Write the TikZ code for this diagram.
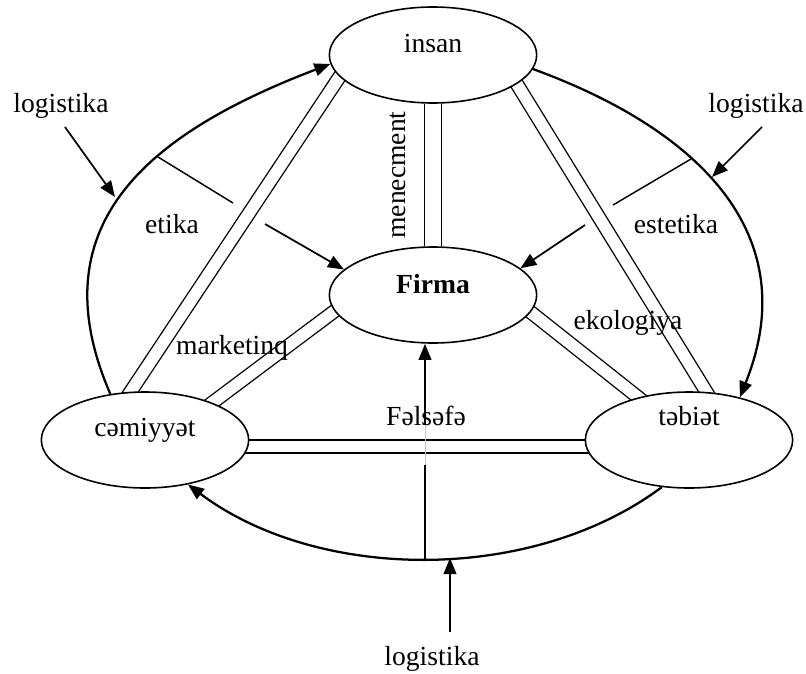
\documentclass[tikz,border=0pt]{standalone}
\usepackage{fontspec}
\setmainfont{Liberation Serif}
\usetikzlibrary{arrows.meta,backgrounds,calc,shapes.geometric}
\begin{document}
\begin{tikzpicture}[x=0.75pt,y=-0.75pt,
  every node/.style={font=\fontsize{20.7}{24}\selectfont, inner sep=0pt},
  ell/.style={ellipse, draw, line width=1.2pt, fill=white, minimum width=155.5pt, minimum height=72pt},
  dbl/.style={double, double distance=8.75pt, line width=1pt},
  dblv/.style={dbl, double distance=11.75pt},
  tip/.style={-{Triangle[length=12pt,width=9.5pt]}},
  arc/.style={line width=1.7pt, tip},
  arr/.style={line width=1.3pt, tip},
  ln/.style={line width=1.1pt},
  lbl/.style={anchor=base}]
\useasboundingbox (0,0) rectangle (806,674);
% ellipses
\node[ell] (insan) at (433,55) {\raisebox{1.5pt}[0pt][0pt]{insan}};
\node[ell] (firma) at (433,295) {\raisebox{1.5pt}[0pt][0pt]{\bfseries Firma}};
\node[ell] (cem) at (145,440) {\raisebox{3pt}[0pt][0pt]{cəmiyyət}};
\node[ell] (teb) at (689,440) {\raisebox{11.25pt}[0pt][0pt]{təbiət}};
% double connectors
\begin{pgfonlayer}{background}
\fill[white] (0,0) rectangle (806,674);
\draw[dblv] (insan) -- (firma);
\draw[dbl] ($(insan)+(-79,0)$) -- ($(cem)+(-46.5,0)$);
\draw[dbl] ($(insan)+(66,0)$) -- ($(teb)+(47,0)$);
\draw[dbl] ($(firma)+(-77,0)$) -- ($(cem)+(17.5,0)$);
\draw[dbl] ($(firma)+(76,0)$) -- ($(teb)+(3,0)$);
\draw[dbl] ($(cem)+(0,6.5)$) -- ($(teb)+(0,6.5)$);
\end{pgfonlayer}
% outer logistics loop
\draw[arc] (cem.127) .. controls (38,227) and (144,135) .. (insan.185);
\draw[arc] (insan.-8) .. controls (700,130) and (805,235) .. (teb.40);
\draw[arc] (teb.240) .. controls (532,584) and (318,582) .. (cem.-46);
% labels
\node[lbl] (ltl) at (61,113) {logistika};
\node[lbl] (ltr) at (756,113) {logistika};
\node[lbl] (lb) at (432,665) {logistika};
\node[lbl] (etika) at (172,233) {etika};
\node[lbl] (estetika) at (676,233) {estetika};
\node[lbl, rotate=90] (men) at (405,175) {menecment};
\node[lbl] (mark) at (232,354) {marketinq};
\node[lbl] (eko) at (628,329) {ekologiya};
\node[lbl] (fel) at (426,425) {Fəlsəfə};
% coordinates
\coordinate (tls) at (65,127);
\coordinate (tle) at (115,197);
\coordinate (trs) at (762,127);
\coordinate (tre) at (712,177);
\coordinate (bs) at (450,632);
\coordinate (be) at (450,558);
\coordinate (e1) at (158,157);
\coordinate (e2) at (233,203);
\coordinate (e3) at (265,224);
\coordinate (s1) at (691,159);
\coordinate (s2) at (613,205);
\coordinate (s3) at (585,225);
\coordinate (v0) at (425,559);
\coordinate (v1) at (425,465);
\coordinate (v2) at (425,425);
% arrows
\draw[arr] (tls) -- (tle);
\draw[arr] (trs) -- (tre);
\draw[arr] (bs) -- (be);
\draw[ln] (e1) -- (e2);
\draw[arr] (e3) -- (firma.164);
\draw[ln] (s1) -- (s2);
\draw[arr] (s3) -- (firma.17);
\draw[line width=1.3pt] (v0) -- (v1);
\draw[gray!45, line width=0.5pt] (v1) -- (v2);
\draw[arr] (v2) -- (v2 |- firma.south);
\end{tikzpicture}
\end{document}
